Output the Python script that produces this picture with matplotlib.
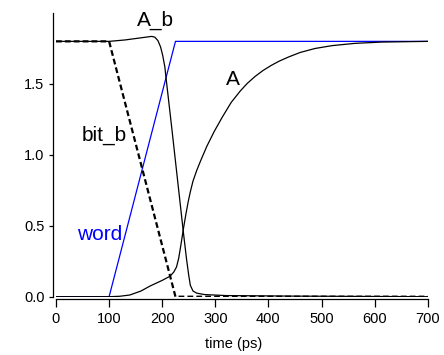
import matplotlib
matplotlib.use("Agg")
import matplotlib.pyplot as plt

plt.rcParams['font.family'] = ['Liberation Sans', 'DejaVu Sans']

# data (time in ps, voltage)
word_t = [0, 100, 225, 700]
word_v = [0.0, 0.0, 1.8, 1.8]

bitb_t = [0, 100, 225, 700]
bitb_v = [1.8, 1.8, 0.0, 0.0]

Ab_t = [0, 100, 130, 160, 180, 186, 192, 197, 201, 205, 207, 218, 229, 240, 246, 250, 253, 258, 265, 280, 320, 450, 700]
Ab_v = [1.8, 1.8, 1.81, 1.825, 1.835, 1.83, 1.805, 1.76, 1.7, 1.62, 1.55, 1.19, 0.82, 0.45, 0.26, 0.15, 0.08, 0.04, 0.025, 0.015, 0.008, 0.004, 0.0]

A_t = [0, 100, 120, 139, 160, 177, 200, 215, 222, 227, 231, 235, 240, 245, 249, 253, 258, 265, 272, 284, 298, 313, 330, 347, 360, 375, 390, 406, 420, 438, 460, 488, 520, 563, 613, 700]
A_v = [0.0, 0.0, 0.003, 0.012, 0.04, 0.075, 0.115, 0.145, 0.175, 0.21, 0.27, 0.36, 0.48, 0.59, 0.67, 0.74, 0.815, 0.89, 0.955, 1.06, 1.165, 1.265, 1.37, 1.45, 1.503, 1.553, 1.595, 1.632, 1.66, 1.69, 1.722, 1.75, 1.77, 1.786, 1.795, 1.8]

xticks = [0, 100, 200, 300, 400, 500, 600, 700]
yticks = [0.0, 0.5, 1.0, 1.5]
ytick_labels = ["0.0", "0.5", "1.0", "1.5"]

W, H = 444, 355
fig = plt.figure(figsize=(W / 100, H / 100), dpi=100)
x0, x1 = 56, 427.7
y0, y1 = 296.7, 13
ax = fig.add_axes([x0 / W, (H - y0) / H, (x1 - x0) / W, (y0 - y1) / H])

ax.plot(word_t, word_v, color='#0000ff', lw=0.9)
ax.plot(A_t, A_v, color='black', lw=0.9)
ax.plot(Ab_t, Ab_v, color='black', lw=0.9)
ax.plot(bitb_t, bitb_v, color='black', lw=1.6, ls=(0, (2.6, 1.4)))

ax.set_xlim(0, 700)
ax.set_ylim(0, 2.0)

for s in ['top', 'right']:
    ax.spines[s].set_visible(False)
ax.spines['left'].set_position(('outward', 2.2))
ax.spines['bottom'].set_position(('outward', 1.7))
ax.spines['left'].set_bounds(0, 2.0)
ax.spines['bottom'].set_bounds(0, 700)
ax.spines['left'].set_linewidth(0.9)
ax.spines['bottom'].set_linewidth(0.9)

ax.set_xticks(xticks)
ax.set_yticks(yticks)
ax.set_yticklabels(ytick_labels)
ax.tick_params(axis='x', direction='out', length=5.5, width=0.9, labelsize=10.5, pad=4)
ax.tick_params(axis='y', direction='out', length=3, width=0.9, labelsize=10.5, pad=3)

ax.set_xlabel('time (ps)', fontsize=10.5)
ax.xaxis.set_label_coords(0.4775, -0.142)

ax.text(153, 1.907, 'A_b', fontsize=15, ha='left', va='baseline')
ax.text(49, 1.10, 'bit_b', fontsize=15, ha='left', va='baseline')
ax.text(40, 0.398, 'word', fontsize=15, ha='left', va='baseline', color='#0000ff')
ax.text(320, 1.495, 'A', fontsize=15, ha='left', va='baseline')

fig.savefig('out.png', dpi=100)
